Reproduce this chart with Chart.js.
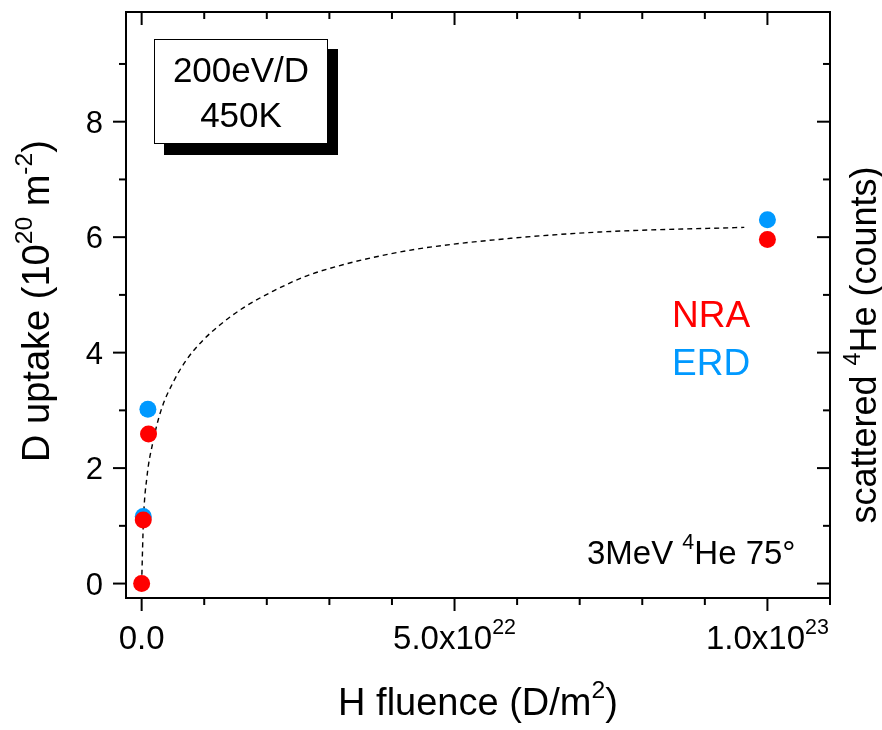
<!DOCTYPE html>
<html>
<head>
<meta charset="utf-8">
<script src="https://cdn.jsdelivr.net/npm/chart.js@4.4.0/dist/chart.umd.min.js"></script>
<style>
    body { margin: 0; background: #ffffff; }
    #wrap { width: 882px; height: 730px; }
</style>
</head>
<body>
<div id="wrap"><canvas id="uptakeChart" width="882" height="730"></canvas></div>
<script>
// D uptake measured by NRA and ERD vs H fluence
const nraFluence = [0, 2.6e20, 1.1e21, 1e23];
const nraUptake = [0, 1.10, 2.59, 5.96];
const erdFluence = [2.6e20, 1.0e21, 1e23];
const erdUptake = [1.16, 3.02, 6.30];

// saturation fit (dashed)
const fitFluence = [0, 2.9e20, 8.5e20, 1.8e21, 3.1e21, 5.1e21, 7.2e21, 9.86e21, 1.25e22, 1.63e22,
    2.11e22, 2.64e22, 3.28e22, 3.97e22, 4.56e22, 5.9e22, 7.33e22, 9.63e22];
const fitUptake = [0, 1.10, 1.85, 2.45, 3.00, 3.50, 3.88, 4.22, 4.48, 4.78,
    5.07, 5.33, 5.54, 5.71, 5.82, 5.98, 6.09, 6.17];

// axis ticks
const yMajor = [0, 2, 4, 6, 8];
const yMinor = [1, 3, 5, 7, 9];
const xMajor = [0, 5e22, 1e23];
const xMinor = [1e22, 2e22, 3e22, 4e22, 6e22, 7e22, 8e22, 9e22, 1.1e23];
const xTickLabels = [[['0.0', false]], [['5.0x10', false], ['22', true]], [['1.0x10', false], ['23', true]]];

const FONT = '"Liberation Sans", Arial, Helvetica, sans-serif';
const RED = '#ff0000';
const BLUE = '#0099ff';

function toPoints(xs, ys) {
    return xs.map((v, i) => ({ x: v, y: ys[i] }));
}

// text with superscript pieces: parts = [[text, isSup], ...]
function drawRich(ctx, parts, x, y, size, align, color) {
    let total = 0;
    parts.forEach(p => {
        ctx.font = (p[1] ? size * 0.65 : size) + 'px ' + FONT;
        total += ctx.measureText(p[0]).width;
    });
    let cx = x;
    if (align === 'center') cx = x - total / 2;
    if (align === 'right') cx = x - total;
    ctx.textAlign = 'left';
    ctx.textBaseline = 'alphabetic';
    ctx.fillStyle = color || '#000';
    parts.forEach(p => {
        ctx.font = (p[1] ? size * 0.65 : size) + 'px ' + FONT;
        ctx.fillText(p[0], cx, p[1] ? y - size * 0.45 : y);
        cx += ctx.measureText(p[0]).width;
    });
}

const axisFrame = {
    id: 'axisFrame',
    afterDraw(chart) {
        const ctx = chart.ctx;
        const a = chart.chartArea;
        const xs = chart.scales.x;
        const ys = chart.scales.y;

        ctx.save();
        ctx.strokeStyle = '#000';
        ctx.lineWidth = 2;
        ctx.strokeRect(a.left, a.top, a.right - a.left, a.bottom - a.top);

        function line(x1, y1, x2, y2) {
            ctx.beginPath();
            ctx.moveTo(x1, y1);
            ctx.lineTo(x2, y2);
            ctx.stroke();
        }

        // left ticks point out, right ticks point in
        yMajor.forEach(v => {
            const py = ys.getPixelForValue(v);
            line(a.left - 13, py, a.left, py);
            line(a.right - 13, py, a.right, py);
        });
        yMinor.forEach(v => {
            const py = ys.getPixelForValue(v);
            line(a.left - 7, py, a.left, py);
            line(a.right - 7, py, a.right, py);
        });
        // bottom ticks point out, top ticks point in
        xMajor.forEach(v => {
            const px = xs.getPixelForValue(v);
            line(px, a.bottom, px, a.bottom + 13);
            line(px, a.top, px, a.top + 13);
        });
        xMinor.forEach(v => {
            const px = xs.getPixelForValue(v);
            line(px, a.bottom, px, a.bottom + 7);
            line(px, a.top, px, a.top + 7);
        });

        // tick labels
        yMajor.forEach(v => {
            const py = ys.getPixelForValue(v);
            drawRich(ctx, [[String(v), false]], 103, py + 11, 31, 'right');
        });
        xMajor.forEach((v, i) => {
            const px = xs.getPixelForValue(v);
            drawRich(ctx, xTickLabels[i], px, 649, 33, 'center');
        });

        // axis titles
        drawRich(ctx, [['H fluence (D/m', false], ['2', true], [')', false]], 478, 715, 38, 'center');

        ctx.save();
        ctx.translate(49, 301);
        ctx.rotate(-Math.PI / 2);
        drawRich(ctx, [['D uptake (10', false], ['20', true], [' m', false], ['-2', true], [')', false]], 0, 0, 38, 'center');
        ctx.restore();

        ctx.save();
        ctx.translate(876, 345);
        ctx.rotate(-Math.PI / 2);
        drawRich(ctx, [['scattered ', false], ['4', true], ['He (counts)', false]], 0, 0, 36, 'center');
        ctx.restore();

        // in-plot labels
        drawRich(ctx, [['NRA', false]], 672, 327, 37, 'left', RED);
        drawRich(ctx, [['ERD', false]], 672, 375, 37, 'left', BLUE);
        drawRich(ctx, [['3MeV ', false], ['4', true], ['He 75\u00b0', false]], 587, 564, 33, 'left');

        // condition box with drop shadow
        ctx.fillStyle = '#000';
        ctx.fillRect(164, 49, 174, 106);
        ctx.fillStyle = '#fff';
        ctx.fillRect(154, 39, 174, 105);
        ctx.lineWidth = 1;
        ctx.strokeRect(154.5, 39.5, 173, 104);
        drawRich(ctx, [['200eV/D', false]], 241, 82, 35, 'center');
        drawRich(ctx, [['450K', false]], 241, 127, 35, 'center');

        ctx.restore();
    }
};

const ctx = document.getElementById('uptakeChart').getContext('2d');
new Chart(ctx, {
    type: 'scatter',
    data: {
        datasets: [
            {
                label: 'NRA',
                data: toPoints(nraFluence, nraUptake),
                backgroundColor: RED,
                borderWidth: 0,
                pointRadius: 8.5,
                pointHoverRadius: 8.5
            },
            {
                label: 'ERD',
                data: toPoints(erdFluence, erdUptake),
                backgroundColor: BLUE,
                borderWidth: 0,
                pointRadius: 8.5,
                pointHoverRadius: 8.5
            },
            {
                label: 'fit',
                data: toPoints(fitFluence, fitUptake),
                showLine: true,
                borderColor: '#000',
                borderWidth: 1.4,
                borderDash: [5, 4],
                cubicInterpolationMode: 'monotone',
                pointRadius: 0,
                fill: false
            }
        ]
    },
    options: {
        responsive: false,
        animation: false,
        devicePixelRatio: 1,
        layout: {
            padding: { left: 126, right: 52, top: 12, bottom: 132 }
        },
        plugins: {
            legend: { display: false },
            tooltip: { enabled: false }
        },
        scales: {
            x: { type: 'linear', min: -2.5e21, max: 1.1e23, display: false },
            y: { type: 'linear', min: -0.25, max: 9.9, display: false }
        }
    },
    plugins: [axisFrame]
});
</script>
</body>
</html>
